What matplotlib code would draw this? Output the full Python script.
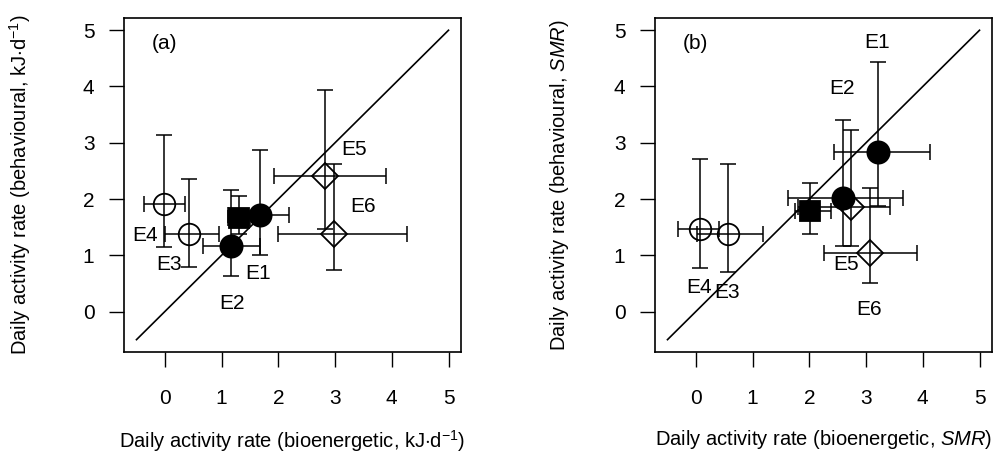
import matplotlib
matplotlib.use("Agg")
import matplotlib.pyplot as plt

plt.rcParams['font.family'] = ['Liberation Sans', 'DejaVu Sans']
plt.rcParams['mathtext.fontset'] = 'custom'
plt.rcParams['mathtext.rm'] = 'Liberation Sans'
plt.rcParams['mathtext.it'] = 'Liberation Sans:italic'

# ---------------- data: panel (a) kJ/d ----------------
a_names = ["E1", "E2", "E3", "E4", "E5", "E6", "mean"]
a_x = [1.67, 1.17, 0.43, -0.01, 2.82, 2.99, 1.30]
a_y = [1.72, 1.16, 1.37, 1.92, 2.41, 1.38, 1.66]
a_xlo = [1.12, 0.68, 0.00, -0.36, 1.93, 2.00, 1.12]
a_xhi = [2.19, 1.68, 0.95, 0.35, 3.89, 4.26, 1.50]
a_ylo = [1.01, 0.63, 0.80, 1.15, 1.47, 0.73, 1.38]
a_yhi = [2.88, 2.16, 2.35, 3.14, 3.94, 2.63, 2.05]
a_lab_x = [1.64, 1.18, 0.07, -0.35, 3.33, 3.50]
a_lab_y = [0.67, 0.15, 0.83, 1.35, 2.88, 1.87]

# ---------------- data: panel (b) SMR ----------------
b_x = [3.21, 2.59, 0.56, 0.07, 2.74, 3.07, 2.02]
b_y = [2.84, 2.01, 1.38, 1.47, 1.86, 1.04, 1.78]
b_xlo = [2.44, 1.63, 0.02, -0.31, 1.80, 2.25, 1.74]
b_xhi = [4.12, 3.66, 1.18, 0.41, 3.43, 3.90, 2.38]
b_ylo = [1.87, 1.17, 0.71, 0.78, 1.16, 0.50, 1.37]
b_yhi = [4.43, 3.41, 2.62, 2.72, 3.23, 2.19, 2.29]
b_lab_x = [3.20, 2.57, 0.55, 0.05, 2.65, 3.05]
b_lab_y = [4.79, 3.97, 0.34, 0.43, 0.83, 0.04]

# marker style per point: E1,E2 filled circle; E3,E4 open circle; E5,E6 open diamond; mean filled square
styles = [("o", "black", 16), ("o", "black", 16), ("o", "none", 15.5), ("o", "none", 15.5),
          ("D", "none", 13.5), ("D", "none", 13.5), ("s", "black", 15)]

ticks = [0, 1, 2, 3, 4, 5]
lims = (-0.72, 5.22)

fig = plt.figure(figsize=(10, 4.7), dpi=100)
ax_a = fig.add_axes([0.124, 0.251, 0.337, 0.711])
ax_b = fig.add_axes([0.655, 0.251, 0.337, 0.711])


def draw(ax, xs, ys, xlo, xhi, ylo, yhi, lx, ly, tag, xlabel, ylabel, ylpad):
    ax.plot([-0.5, 5], [-0.5, 5], color="black", lw=1.2, zorder=1)
    for i in range(len(xs)):
        m, fc, ms = styles[i]
        ax.errorbar(xs[i], ys[i],
                    xerr=[[xs[i] - xlo[i]], [xhi[i] - xs[i]]],
                    yerr=[[ys[i] - ylo[i]], [yhi[i] - ys[i]]],
                    fmt="none", ecolor="black", elinewidth=1.1, capsize=5.5,
                    capthick=1.1, zorder=2)
        ax.plot(xs[i], ys[i], marker=m, ms=ms, mfc=fc, mec="black", mew=1.3,
                linestyle="none", zorder=3)
    for i in range(len(lx)):
        ax.text(lx[i], ly[i], a_names[i], fontsize=15, ha="center", va="center", zorder=4)
    ax.text(0.0, 4.76, tag, fontsize=15, ha="center", va="center")
    ax.set_xlim(*lims)
    ax.set_ylim(*lims)
    ax.set_xticks(ticks)
    ax.set_yticks(ticks)
    ax.tick_params(axis="y", direction="out", length=10.8, width=1.0, pad=10.5, labelsize=15)
    ax.tick_params(axis="x", direction="out", length=10.8, width=1.0, pad=16, labelsize=15)
    for s in ax.spines.values():
        s.set_linewidth(1.2)
    ax.set_xlabel(xlabel, fontsize=14.5, labelpad=14)
    ax.set_ylabel(ylabel, fontsize=14.5, labelpad=ylpad)


draw(ax_a, a_x, a_y, a_xlo, a_xhi, a_ylo, a_yhi, a_lab_x, a_lab_y, "(a)",
     r"Daily activity rate (bioenergetic, kJ$\cdot$d$^{-1}$)",
     r"Daily activity rate (behavioural, kJ$\cdot$d$^{-1}$)", 36)
draw(ax_b, b_x, b_y, b_xlo, b_xhi, b_ylo, b_yhi, b_lab_x, b_lab_y, "(b)",
     r"Daily activity rate (bioenergetic, $\it{SMR}$)",
     r"Daily activity rate (behavioural, $\it{SMR}$)", 31)

fig.savefig("out.png", dpi=100)
